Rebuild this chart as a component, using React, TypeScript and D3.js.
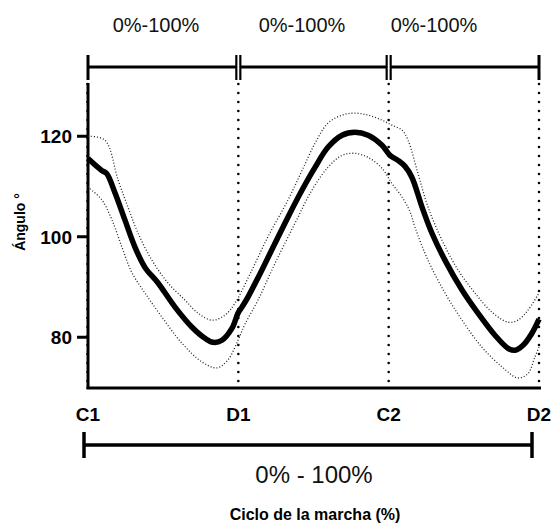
import React from "react";
import * as d3 from "d3";

// gait cycle position (0-300, three 0-100% segments) and knee angle (deg)
const meanCurve: [number, number][] = [
  [0, 115.6], [1.3, 115.2], [9.1, 113.2], [12.4, 112.6], [18, 108.7],
  [24.6, 103.3], [31.3, 97.9], [37.9, 93.9], [46.6, 90.8], [57.9, 86.0],
  [69.2, 82.0], [77.8, 79.8], [83.1, 79.0], [89.1, 79.4], [95.8, 81.8],
  [99.8, 84.8], [102.4, 86.0], [106.4, 88.0], [115.7, 93.4], [124.4, 98.7],
  [133, 103.9], [142.4, 109.3], [151, 113.8], [159.6, 117.8], [169, 120.2],
  [177.6, 120.8], [186.3, 120.2], [195.6, 118.2], [200.9, 116.2], [206.2, 115.2],
  [210.9, 114.0], [215.5, 111.8], [222.2, 105.9], [228.8, 100.7], [237.5, 95.3],
  [248.8, 89.4], [259.4, 84.8], [270.7, 80.4], [279.4, 77.8], [284, 77.4],
  [289.4, 78.4], [295.3, 80.8], [300, 83.6],
];

const upperCurve: [number, number][] = [
  [0, 120.0], [11.3, 119.2], [20, 111.3], [26.6, 105.9], [33.3, 100.7],
  [42.6, 95.3], [53.2, 90.8], [64.5, 87.4], [73.2, 84.8], [82.5, 83.4],
  [91.1, 84.4], [97.8, 86.8], [107.8, 92.6], [119.7, 100.0], [133, 107.3],
  [142.4, 113.2], [151, 118.6], [159.6, 122.6], [169, 124.2], [177.6, 124.6],
  [186.3, 124.2], [195.6, 123.2], [202.2, 122.2], [208.9, 121.2], [212.9, 119.2],
  [219.5, 112.6], [226.2, 105.9], [235.5, 99.3], [246.1, 93.4], [257.4, 88.8],
  [268.7, 85.0], [279.4, 83.0], [286, 83.4], [292.7, 85.4], [300, 88.8],
];

const lowerCurve: [number, number][] = [
  [0, 110.0], [1.3, 109.6], [9.3, 107.3], [16, 103.3], [22.6, 97.9],
  [29.3, 92.8], [37.9, 88.8], [49.2, 84.0], [62.5, 78.8], [75.8, 75.1],
  [85.8, 73.9], [93.1, 75.5], [99.8, 79.4], [104.4, 82.6], [113.1, 87.4],
  [124.4, 94.7], [137.7, 102.7], [149, 109.3], [159.6, 113.8], [169, 116.2],
  [177.6, 116.6], [186.3, 115.8], [195.6, 113.6], [202.2, 110.6], [208.9, 107.9],
  [214.2, 105.0], [217.5, 101.9], [226.2, 95.3], [237.5, 88.8], [248.8, 83.4],
  [262.1, 78.0], [275.4, 74.1], [286, 71.9], [292.7, 72.8], [297.3, 76.1],
  [300, 78.0],
];

const eventMarks = [0, 100, 200, 300];
const eventLabels = ["C1", "D1", "C2", "D2"];
const yTicks = [80, 100, 120];
const segmentLabel = "0%-100%";

const FONT = "'Liberation Sans', Arial, sans-serif";

export default function App() {
  const x = d3.scaleLinear().domain([0, 300]).range([88, 539]);
  const y = d3.scaleLinear().domain([70, 130]).range([387.5, 86]);

  const line = d3
    .line<[number, number]>()
    .x((d) => x(d[0]))
    .y((d) => y(d[1]))
    .curve(d3.curveCatmullRom.alpha(0.5));

  const topY = 67;
  const segTextX = [156, 302, 434];

  return (
    <svg
      width={554}
      height={532}
      style={{ position: "absolute", left: 0, top: 0, background: "#fff" }}
      fontFamily={FONT}
    >
      {/* top bracket */}
      <line x1={x(0)} x2={x(300)} y1={topY} y2={topY} stroke="#000" strokeWidth={3} />
      {eventMarks.map((m, i) =>
        i === 0 || i === 3 ? (
          <line key={m} x1={x(m)} x2={x(m)} y1={55} y2={80} stroke="#000" strokeWidth={3} />
        ) : (
          <g key={m}>
            <line x1={x(m) - 2} x2={x(m) - 2} y1={55} y2={80} stroke="#000" strokeWidth={2.2} />
            <line x1={x(m) + 2} x2={x(m) + 2} y1={55} y2={80} stroke="#000" strokeWidth={2.2} />
            <line x1={x(m) - 0.9} x2={x(m) + 0.9} y1={topY} y2={topY} stroke="#fff" strokeWidth={4} />
          </g>
        )
      )}
      {segTextX.map((tx, i) => (
        <text key={i} x={tx} y={32} fontSize={20} textAnchor="middle" fill="#111">
          {segmentLabel}
        </text>
      ))}

      {/* event dotted lines */}
      {eventMarks.map((m) => (
        <line
          key={"v" + m}
          x1={x(m) - (m === 0 ? 0.5 : 0)}
          x2={x(m) - (m === 0 ? 0.5 : 0)}
          y1={84}
          y2={388}
          stroke="#000"
          strokeWidth={2.6}
          strokeDasharray="0 9"
          strokeLinecap="round"
        />
      ))}

      {/* axes */}
      <line x1={88} x2={88} y1={83} y2={389} stroke="#000" strokeWidth={3} />
      <line x1={86.5} x2={541} y1={388} y2={388} stroke="#000" strokeWidth={3} />
      {yTicks.map((t) => (
        <g key={t}>
          <line x1={77} x2={88} y1={y(t)} y2={y(t)} stroke="#000" strokeWidth={3} />
          <text x={72} y={y(t) + 7} fontSize={19} fontWeight="bold" textAnchor="end">
            {t}
          </text>
        </g>
      ))}
      <text
        transform={`translate(25, 222) rotate(-90)`}
        fontSize={14}
        fontWeight="bold"
        textAnchor="middle"
      >
        Ángulo °
      </text>

      {/* bands and mean */}
      <path d={line(upperCurve) ?? ""} fill="none" stroke="#222" strokeWidth={1.3} strokeDasharray="1 2" />
      <path d={line(lowerCurve) ?? ""} fill="none" stroke="#222" strokeWidth={1.3} strokeDasharray="1 2" />
      <path d={line(meanCurve) ?? ""} fill="none" stroke="#000" strokeWidth={5.5} strokeLinejoin="round" />

      {/* event labels */}
      {eventMarks.map((m, i) => (
        <text key={"l" + m} x={x(m)} y={421} fontSize={19} fontWeight="bold" textAnchor="middle">
          {eventLabels[i]}
        </text>
      ))}

      {/* bottom bracket */}
      <line x1={84} x2={532} y1={445} y2={445} stroke="#000" strokeWidth={3.5} />
      <line x1={84} x2={84} y1={432} y2={458} stroke="#000" strokeWidth={3.5} />
      <line x1={532} x2={532} y1={432} y2={458} stroke="#000" strokeWidth={3.5} />
      <text x={314} y={483} fontSize={24} textAnchor="middle" fill="#111">
        0% - 100%
      </text>
      <text x={315} y={520} fontSize={16} fontWeight="bold" textAnchor="middle">
        Ciclo de la marcha (%)
      </text>
    </svg>
  );
}
